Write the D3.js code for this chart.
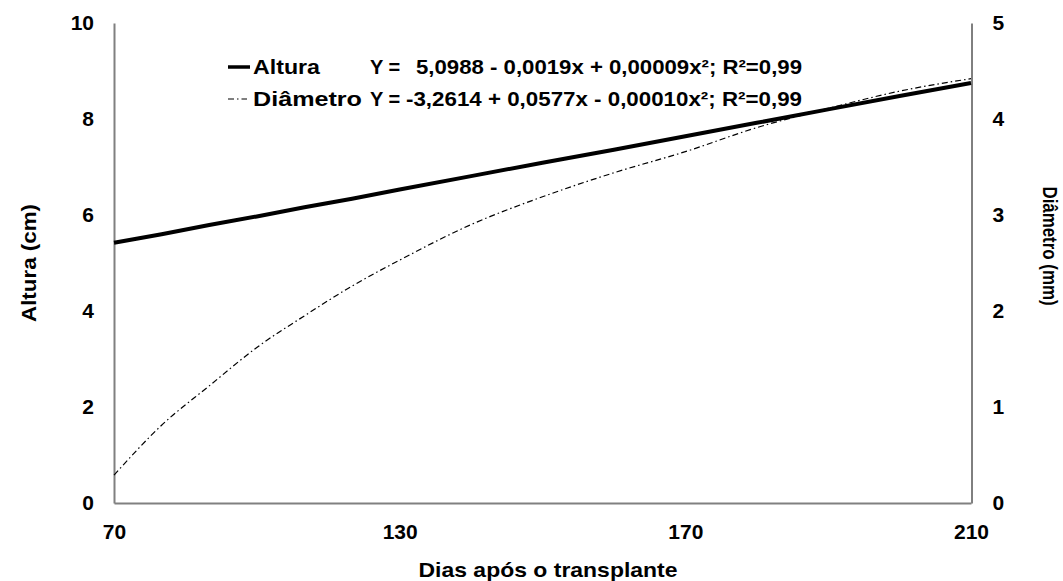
<!DOCTYPE html>
<html>
<head>
<meta charset="utf-8">
<script src="https://cdn.jsdelivr.net/npm/d3@7"></script>
<style>
  body { margin: 0; background: #fff; }
  svg text { font-family: "Liberation Sans", Arial, sans-serif; font-weight: bold; fill: #000; }
</style>
</head>
<body>
<svg id="chart" width="1063" height="581"></svg>
<script>
// data
var days = [70, 80, 90, 100, 110, 120, 130, 140, 150, 160, 170, 180, 190, 200, 210];
var altura = [5.42, 5.60, 5.79, 5.97, 6.16, 6.34, 6.53, 6.81, 7.09, 7.36, 7.64, 7.92, 8.20, 8.48, 8.75];
var diametro = [0.29, 0.81, 1.22, 1.62, 1.95, 2.26, 2.53, 2.90, 3.19, 3.44, 3.66, 3.91, 4.11, 4.29, 4.42];

var xTicks = [70, 130, 170, 210];
var leftTicks = [0, 2, 4, 6, 8, 10];
var rightTicks = [0, 1, 2, 3, 4, 5];

var legendNames = ["Altura", "Diâmetro"];
var legendEq = ["5,0988 - 0,0019x + 0,00009x²; R²=0,99", "-3,2614 + 0,0577x - 0,00010x²; R²=0,99"];

function drawChart() {
    var svg = d3.select("#chart");
    var pLeft = 114, pRight = 971, pTop = 23, pBottom = 503;

    // category axis: labels evenly spaced
    var x = d3.scaleLinear()
        .domain(xTicks)
        .range(xTicks.map(function (d, i) { return pLeft + i * (pRight - pLeft) / (xTicks.length - 1); }));
    var yL = d3.scaleLinear().domain([0, 10]).range([pBottom, pTop]);
    var yR = d3.scaleLinear().domain([0, 5]).range([pBottom, pTop]);

    // axes
    var gL = svg.append("g").attr("transform", "translate(" + pLeft + ",0)")
        .call(d3.axisLeft(yL).tickValues(leftTicks).tickSize(0).tickPadding(20).tickFormat(d3.format("d")));
    gL.select(".domain").attr("stroke", "#808080").attr("stroke-width", 2);

    var gR = svg.append("g").attr("transform", "translate(" + (pRight + 0.5) + ",0)")
        .call(d3.axisRight(yR).tickValues(rightTicks).tickSize(0).tickPadding(21).tickFormat(d3.format("d")));
    gR.select(".domain").attr("stroke", "#000").attr("stroke-width", 1);

    var gB = svg.append("g").attr("transform", "translate(0," + pBottom + ")")
        .call(d3.axisBottom(x).tickValues(xTicks).tickSize(0).tickPadding(21).tickFormat(d3.format("d")));
    gB.select(".domain").attr("stroke", "#808080").attr("stroke-width", 2);

    svg.selectAll(".tick text").attr("font-size", 21).attr("font-family", null);

    // lines
    var lineA = d3.line().x(function (d, i) { return x(days[i]); }).y(function (d) { return yL(d); });
    var lineD = d3.line().curve(d3.curveMonotoneX)
        .x(function (d, i) { return x(days[i]); }).y(function (d) { return yR(d); });

    svg.append("path").datum(diametro)
        .attr("d", lineD)
        .attr("fill", "none").attr("stroke", "#000").attr("stroke-width", 1.2)
        .attr("stroke-dasharray", "6,3,1.5,3");

    svg.append("path").datum(altura)
        .attr("d", lineA)
        .attr("fill", "none").attr("stroke", "#000").attr("stroke-width", 4);

    // legend
    var legY = [74, 106];
    svg.append("line").attr("x1", 228).attr("x2", 250).attr("y1", legY[0] - 7).attr("y2", legY[0] - 7)
        .attr("stroke", "#000").attr("stroke-width", 3.5);
    svg.append("line").attr("x1", 228).attr("x2", 247).attr("y1", legY[1] - 7).attr("y2", legY[1] - 7)
        .attr("stroke", "#000").attr("stroke-width", 1.2).attr("stroke-dasharray", "6,3,1.5,3");

    var nameLen = [67, 109];
    var eqX = [416, 406];
    legendNames.forEach(function (n, i) {
        svg.append("text").attr("x", 253).attr("y", legY[i]).attr("font-size", 20)
            .attr("textLength", nameLen[i]).attr("lengthAdjust", "spacingAndGlyphs").text(n);
        svg.append("text").attr("x", 370).attr("y", legY[i]).attr("font-size", 20).text("Y =");
        svg.append("text").attr("x", eqX[i]).attr("y", legY[i]).attr("font-size", 20)
            .attr("textLength", 802 - eqX[i]).attr("lengthAdjust", "spacingAndGlyphs").text(legendEq[i]);
    });

    // axis titles
    svg.append("text").attr("x", 548).attr("y", 577).attr("text-anchor", "middle").attr("font-size", 21)
        .attr("textLength", 259).attr("lengthAdjust", "spacingAndGlyphs").text("Dias após o transplante");
    svg.append("text").attr("transform", "translate(36,263) rotate(-90)").attr("text-anchor", "middle")
        .attr("font-size", 21).attr("textLength", 118).attr("lengthAdjust", "spacingAndGlyphs").text("Altura (cm)");
    svg.append("text").attr("transform", "translate(1043,246) rotate(90)").attr("text-anchor", "middle")
        .attr("font-size", 20).attr("textLength", 119).attr("lengthAdjust", "spacingAndGlyphs").text("Diâmetro (mm)");
}

drawChart();
</script>
</body>
</html>
